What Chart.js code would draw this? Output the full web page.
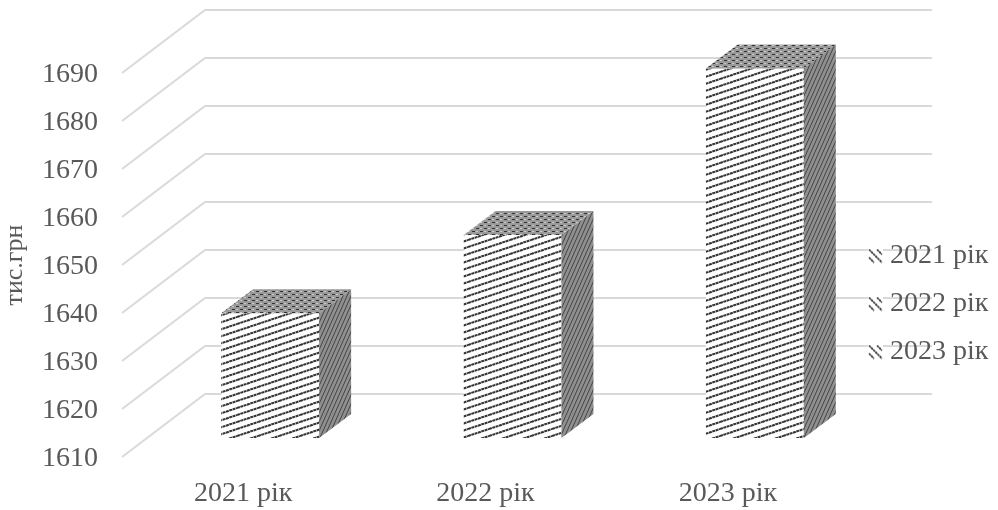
<!DOCTYPE html>
<html>
<head>
<meta charset="utf-8">
<title>chart</title>
<script src="https://cdn.jsdelivr.net/npm/chart.js@4"></script>
<style>
  html, body { margin: 0; padding: 0; background: #fff; }
  canvas { display: block; }
</style>
</head>
<body>
<canvas id="chart" width="998" height="510"></canvas>
<script>
const categories = ['2021 рік', '2022 рік', '2023 рік'];
const values = [1636, 1652.3, 1687];
const axisTitle = 'тис.грн';
const yMin = 1610;
const yMax = 1690;
const yStep = 10;

const textColor = '#595959';
const gridColor = '#d9d9d9';
const fontName = '"Liberation Serif"';

// depth of the fake 3D box
const wallX = 83, wallY = -63;
const barShiftX = 27, barShiftY = -19;
const barDepthX = 32, barDepthY = -24;

function tile(w, h, paint) {
  const c = document.createElement('canvas');
  c.width = w;
  c.height = h;
  paint(c.getContext('2d'));
  return c;
}

function stripes(ctx) {
  ctx.fillStyle = '#fff';
  ctx.fillRect(0, 0, 21, 7);
  ctx.strokeStyle = '#333';
  ctx.lineWidth = 2;
  ctx.setLineDash([3, 0.5]);
  [-7, 0, 7].forEach(o => {
    ctx.beginPath();
    ctx.moveTo(0, 7 + o);
    ctx.lineTo(21, o);
    ctx.stroke();
  });
}

function sideTile(ctx) {
  ctx.fillStyle = '#909090';
  ctx.fillRect(0, 0, 4, 9);
  ctx.strokeStyle = '#444';
  ctx.lineWidth = 1;
  [-4, 0, 4].forEach(o => {
    ctx.beginPath();
    ctx.moveTo(o, 9);
    ctx.lineTo(o + 4, 0);
    ctx.stroke();
  });
}

function topTile(ctx) {
  ctx.fillStyle = '#999';
  ctx.fillRect(0, 0, 8, 6);
  ctx.fillStyle = '#333';
  ctx.fillRect(1, 1, 3, 1);
  ctx.fillRect(5, 4, 3, 1);
  ctx.fillStyle = '#ccc';
  ctx.fillRect(5, 1, 2, 1);
  ctx.fillRect(1, 4, 2, 1);
}

// small legend mark, transparent on the left so the text sits close to it
function legendMark() {
  return tile(21, 15, ctx => {
    ctx.fillStyle = '#fff';
    ctx.fillRect(6, 0, 15, 15);
    ctx.save();
    ctx.beginPath();
    ctx.rect(6, 0, 15, 15);
    ctx.clip();
    ctx.strokeStyle = '#222';
    ctx.lineWidth = 1.5;
    ctx.setLineDash([2.5, 0.5]);
    [-4, 0, 4].forEach(o => {
      ctx.beginPath();
      ctx.moveTo(7 + o + Math.abs(o), 1 - o + Math.abs(o));
      ctx.lineTo(20 + o - Math.abs(o), 14 - o - Math.abs(o));
      ctx.stroke();
    });
    ctx.restore();
  });
}

const ctx0 = document.getElementById('chart').getContext('2d');
const frontFill = ctx0.createPattern(tile(21, 7, stripes), 'repeat');
const sideFill = ctx0.createPattern(tile(4, 9, sideTile), 'repeat');
const topFill = ctx0.createPattern(tile(8, 6, topTile), 'repeat');
const mark = legendMark();

const wallGrid = {
  id: 'wallGrid',
  beforeDraw(chart) {
    const { ctx, chartArea, scales } = chart;
    ctx.save();
    ctx.strokeStyle = gridColor;
    ctx.lineWidth = 2;
    scales.y.ticks.forEach(t => {
      const y = scales.y.getPixelForValue(t.value);
      ctx.beginPath();
      ctx.moveTo(chartArea.left, y);
      ctx.lineTo(chartArea.left + wallX, y + wallY);
      ctx.lineTo(chartArea.right + wallX, y + wallY);
      ctx.stroke();
    });
    ctx.restore();
  }
};

const box3d = {
  id: 'box3d',
  beforeDatasetsDraw(chart) {
    chart.ctx.save();
    chart.ctx.translate(barShiftX, barShiftY);
  },
  afterDatasetsDraw(chart) {
    const ctx = chart.ctx;
    chart.getDatasetMeta(0).data.forEach(bar => {
      const l = bar.x - bar.width / 2, r = bar.x + bar.width / 2;
      ctx.fillStyle = topFill;
      ctx.beginPath();
      ctx.moveTo(l, bar.y);
      ctx.lineTo(l + barDepthX, bar.y + barDepthY);
      ctx.lineTo(r + barDepthX, bar.y + barDepthY);
      ctx.lineTo(r, bar.y);
      ctx.closePath();
      ctx.fill();
      ctx.fillStyle = sideFill;
      ctx.beginPath();
      ctx.moveTo(r, bar.y);
      ctx.lineTo(r + barDepthX, bar.y + barDepthY);
      ctx.lineTo(r + barDepthX, bar.base + barDepthY);
      ctx.lineTo(r, bar.base);
      ctx.closePath();
      ctx.fill();
    });
    ctx.restore();
  }
};

const legendPlace = {
  id: 'legendPlace',
  beforeInit(chart) {
    const fit = chart.legend.fit;
    chart.legend.fit = function () {
      fit.call(this);
      this.width = 149;
    };
  },
  afterLayout(chart) {
    chart.legend.top = 222;
    chart.legend.bottom = 386;
  }
};

new Chart(ctx0, {
  type: 'bar',
  data: {
    labels: categories,
    datasets: [{
      data: values,
      base: yMin,
      backgroundColor: frontFill,
      borderWidth: 0,
      categoryPercentage: 1,
      barPercentage: 0.404,
      clip: false
    }]
  },
  plugins: [wallGrid, box3d, legendPlace],
  options: {
    responsive: false,
    animation: false,
    layout: { padding: { top: 73 } },
    plugins: {
      tooltip: { enabled: false },
      legend: {
        position: 'right',
        align: 'start',
        onClick: null,
        labels: {
          usePointStyle: true,
          pointStyleWidth: 7,
          padding: 20,
          color: textColor,
          font: { family: fontName, size: 28 },
          generateLabels: () => categories.map(c => ({
            text: c,
            pointStyle: mark,
            fontColor: textColor,
            lineWidth: 0
          }))
        }
      }
    },
    scales: {
      x: {
        grid: { display: false },
        border: { display: false },
        ticks: { color: textColor, font: { family: fontName, size: 28 }, padding: 12, maxRotation: 0 },
        afterFit(scale) { scale.height = 53; }
      },
      y: {
        min: yMin,
        max: yMax,
        grid: { display: false },
        border: { display: false },
        ticks: {
          stepSize: yStep,
          color: textColor,
          font: { family: fontName, size: 28 },
          padding: 16,
          labelOffset: 2,
          callback: v => String(v)
        },
        title: { display: true, text: axisTitle, color: textColor, font: { family: fontName, size: 26 }, padding: 0 },
        afterFit(scale) { scale.width = 122; }
      }
    }
  }
});
</script>
</body>
</html>
